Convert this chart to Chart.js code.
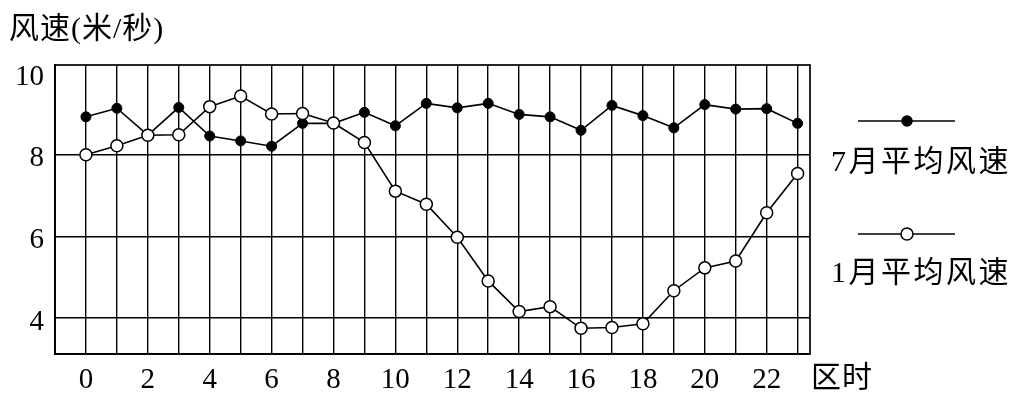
<!DOCTYPE html>
<html>
<head>
<meta charset="utf-8">
<script src="https://cdn.jsdelivr.net/npm/chart.js@4"></script>
<style>
html,body{margin:0;padding:0;background:#fff;}
#wrap{width:1021px;height:405px;}
</style>
</head>
<body>
<div id="wrap"><canvas id="c" width="1021" height="405"></canvas></div>
<script>
const hours = [0,1,2,3,4,5,6,7,8,9,10,11,12,13,14,15,16,17,18,19,20,21,22,23];
const julySpeed = [8.93,9.14,8.48,9.16,8.46,8.34,8.21,8.77,8.77,9.04,8.71,9.26,9.15,9.26,8.99,8.93,8.60,9.21,8.96,8.66,9.23,9.12,9.13,8.77];
const janSpeed  = [8.00,8.22,8.48,8.49,9.18,9.44,9.00,9.01,8.78,8.30,7.11,6.79,5.98,4.91,4.16,4.28,3.75,3.77,3.86,4.67,5.23,5.40,6.58,7.54];
const yTicks = [4,6,8,10];
const xLabelTicks = [0,2,4,6,8,10,12,14,16,18,20,22];
const seriesNames = ['7月平均风速','1月平均风速'];
const yTitle = '风速(米/秒)';
const xTitle = '区时';

const FONT = '"Liberation Serif", "Noto Sans CJK SC", serif';

const decor = {
  id:'decor',
  afterDraw(chart){
    const ctx = chart.ctx, a = chart.chartArea;
    ctx.save();
    ctx.strokeStyle = '#000';
    ctx.lineWidth = 1.7;
    ctx.strokeRect(a.left, a.top, a.right - a.left, a.bottom - a.top);
    ctx.fillStyle = '#000';
    ctx.textBaseline = 'middle';
    ctx.textAlign = 'left';
    ctx.font = '30px ' + FONT;
    try { ctx.letterSpacing = '1px'; } catch(e) {}
    ctx.fillText(yTitle, 9, 30);
    ctx.fillText(xTitle, 811, 379);
    // legend
    const items = [
      {y:121, ty:163, fill:'#000', r:5},
      {y:234, ty:274, fill:'#fff', r:6}
    ];
    items.forEach((it,i)=>{
      ctx.beginPath();
      ctx.lineWidth = 1.6;
      ctx.moveTo(858, it.y); ctx.lineTo(955, it.y); ctx.stroke();
      ctx.beginPath();
      ctx.arc(907, it.y, it.r, 0, Math.PI*2);
      ctx.fillStyle = it.fill; ctx.fill();
      ctx.lineWidth = 1.5; ctx.stroke();
      ctx.fillStyle = '#000';
      ctx.font = '30px ' + FONT;
      try { ctx.letterSpacing = '2.5px'; } catch(e) {}
      ctx.fillText(seriesNames[i], 831, it.ty);
    });
    try { ctx.letterSpacing = '0px'; } catch(e) {}
    ctx.restore();
  }
};

new Chart(document.getElementById('c'), {
  type:'line',
  data:{
    datasets:[
      {label:seriesNames[0], data:hours.map((h,i)=>({x:h,y:julySpeed[i]})), borderColor:'#000', borderWidth:1.6,
       pointRadius:5, pointBackgroundColor:'#000', pointBorderColor:'#000', pointBorderWidth:1, order:1, tension:0},
      {label:seriesNames[1], data:hours.map((h,i)=>({x:h,y:janSpeed[i]})), borderColor:'#000', borderWidth:1.6,
       pointRadius:6, pointBackgroundColor:'#fff', pointBorderColor:'#000', pointBorderWidth:1.5, order:0, tension:0}
    ]
  },
  options:{
    responsive:false,
    animation:false,
    events:[],
    layout:{padding:{top:65,right:211,left:0,bottom:0}},
    plugins:{legend:{display:false},tooltip:{enabled:false},title:{display:false}},
    scales:{
      x:{
        type:'linear', min:-1, max:23.4,
        afterBuildTicks(s){ const t=[]; for(let v=-1; v<=23; v++) t.push({value:v}); s.ticks=t; },
        afterFit(s){ s.height = 51; },
        grid:{color:'#000', lineWidth:1.4, drawTicks:false},
        border:{display:true, color:'#000', width:1.7},
        ticks:{padding:9, color:'#000', font:{family:FONT, size:29}, maxRotation:0, autoSkip:false,
          callback:(v)=> xLabelTicks.includes(v) ? String(v) : ''}
      },
      y:{
        type:'linear', min:3.12, max:10.2,
        afterBuildTicks(s){ s.ticks = yTicks.map(v=>({value:v})); },
        afterFit(s){ s.width = 55; },
        grid:{color:(c)=> c.tick && c.tick.value===10 ? 'rgba(0,0,0,0)' : '#000', lineWidth:1.4, drawTicks:false},
        border:{display:true, color:'#000', width:1.7},
        ticks:{padding:11, color:'#000', font:{family:FONT, size:29}, labelOffset:4}
      }
    }
  },
  plugins:[decor]
});
</script>
</body>
</html>
